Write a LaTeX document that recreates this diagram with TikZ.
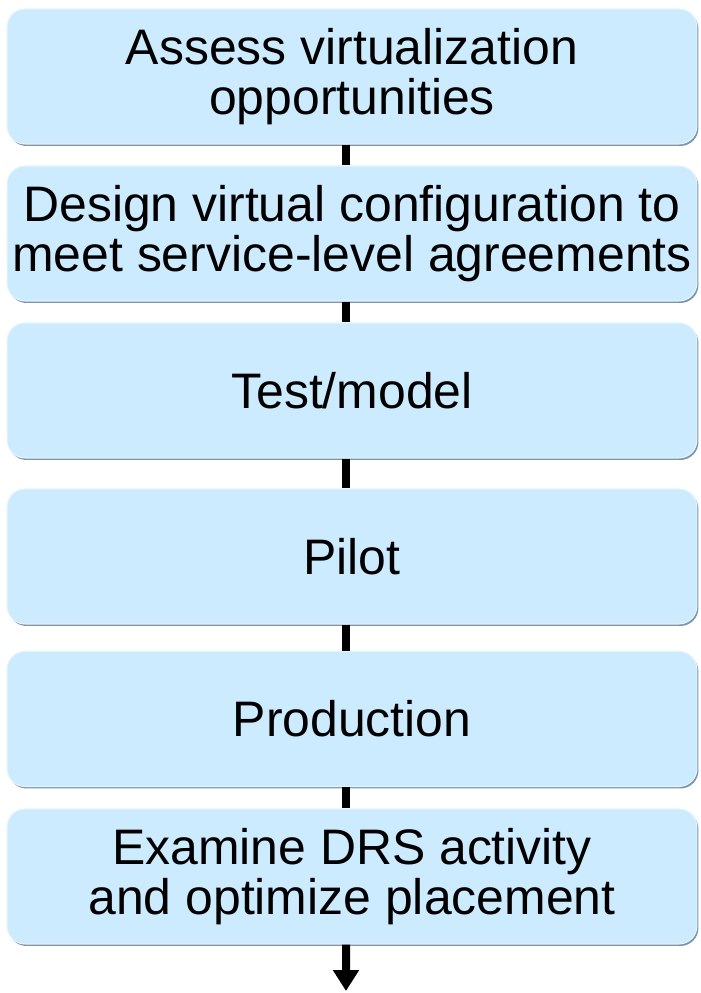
\documentclass[tikz,border=0pt]{standalone}
\usepackage{fontspec}
\setmainfont{Liberation Sans}
\usetikzlibrary{shadows,arrows.meta}
\definecolor{boxfill}{HTML}{CCEBFF}
\definecolor{boxshade}{HTML}{7F95A6}
\definecolor{boxedge}{HTML}{E2F4FF}
\tikzset{
  stage/.style={draw=boxedge, line width=.6pt, fill=boxfill, rounded corners=.36cm,
    minimum width=13.8cm, minimum height=2.7cm, align=center, inner sep=0pt,
    font=\fontsize{28.4}{28.6}\selectfont,
    drop shadow={shadow xshift=.03cm, shadow yshift=-.04cm, fill=boxshade, opacity=1}},
  link/.style={line width=.16cm}
}
\begin{document}
\begin{tikzpicture}[x=.02cm,y=-.02cm]
      \useasboundingbox (0,0) rectangle (700,993);
      \node[stage](assess)at(352,76.5){Assess virtualization\\opportunities};
      \node[stage](design)at(352,233.5){Design virtual configuration to\\meet service-level agreements};
      \node[stage](test)at(352,390.5){Test/model};
      \node[stage](pilot)at(352,556.5){Pilot};
      \node[stage](prod)at(352,719){Production};
      \node[stage](examine)at(352,876.5){Examine DRS activity\\and optimize placement};
      \coordinate(out)at(346,991);
      % connectors between the stages
      \foreach \A/\B in{assess/design, design/test, test/pilot, pilot/prod, prod/examine}{
        \draw[link]([xshift=-.12cm]\A.south)--([xshift=-.12cm]\B.north);
      }
      \draw[link,-{Triangle[width=.5cm,length=.42cm]}]([xshift=-.12cm]examine.south)--(out);
    \end{tikzpicture}
\end{document}
